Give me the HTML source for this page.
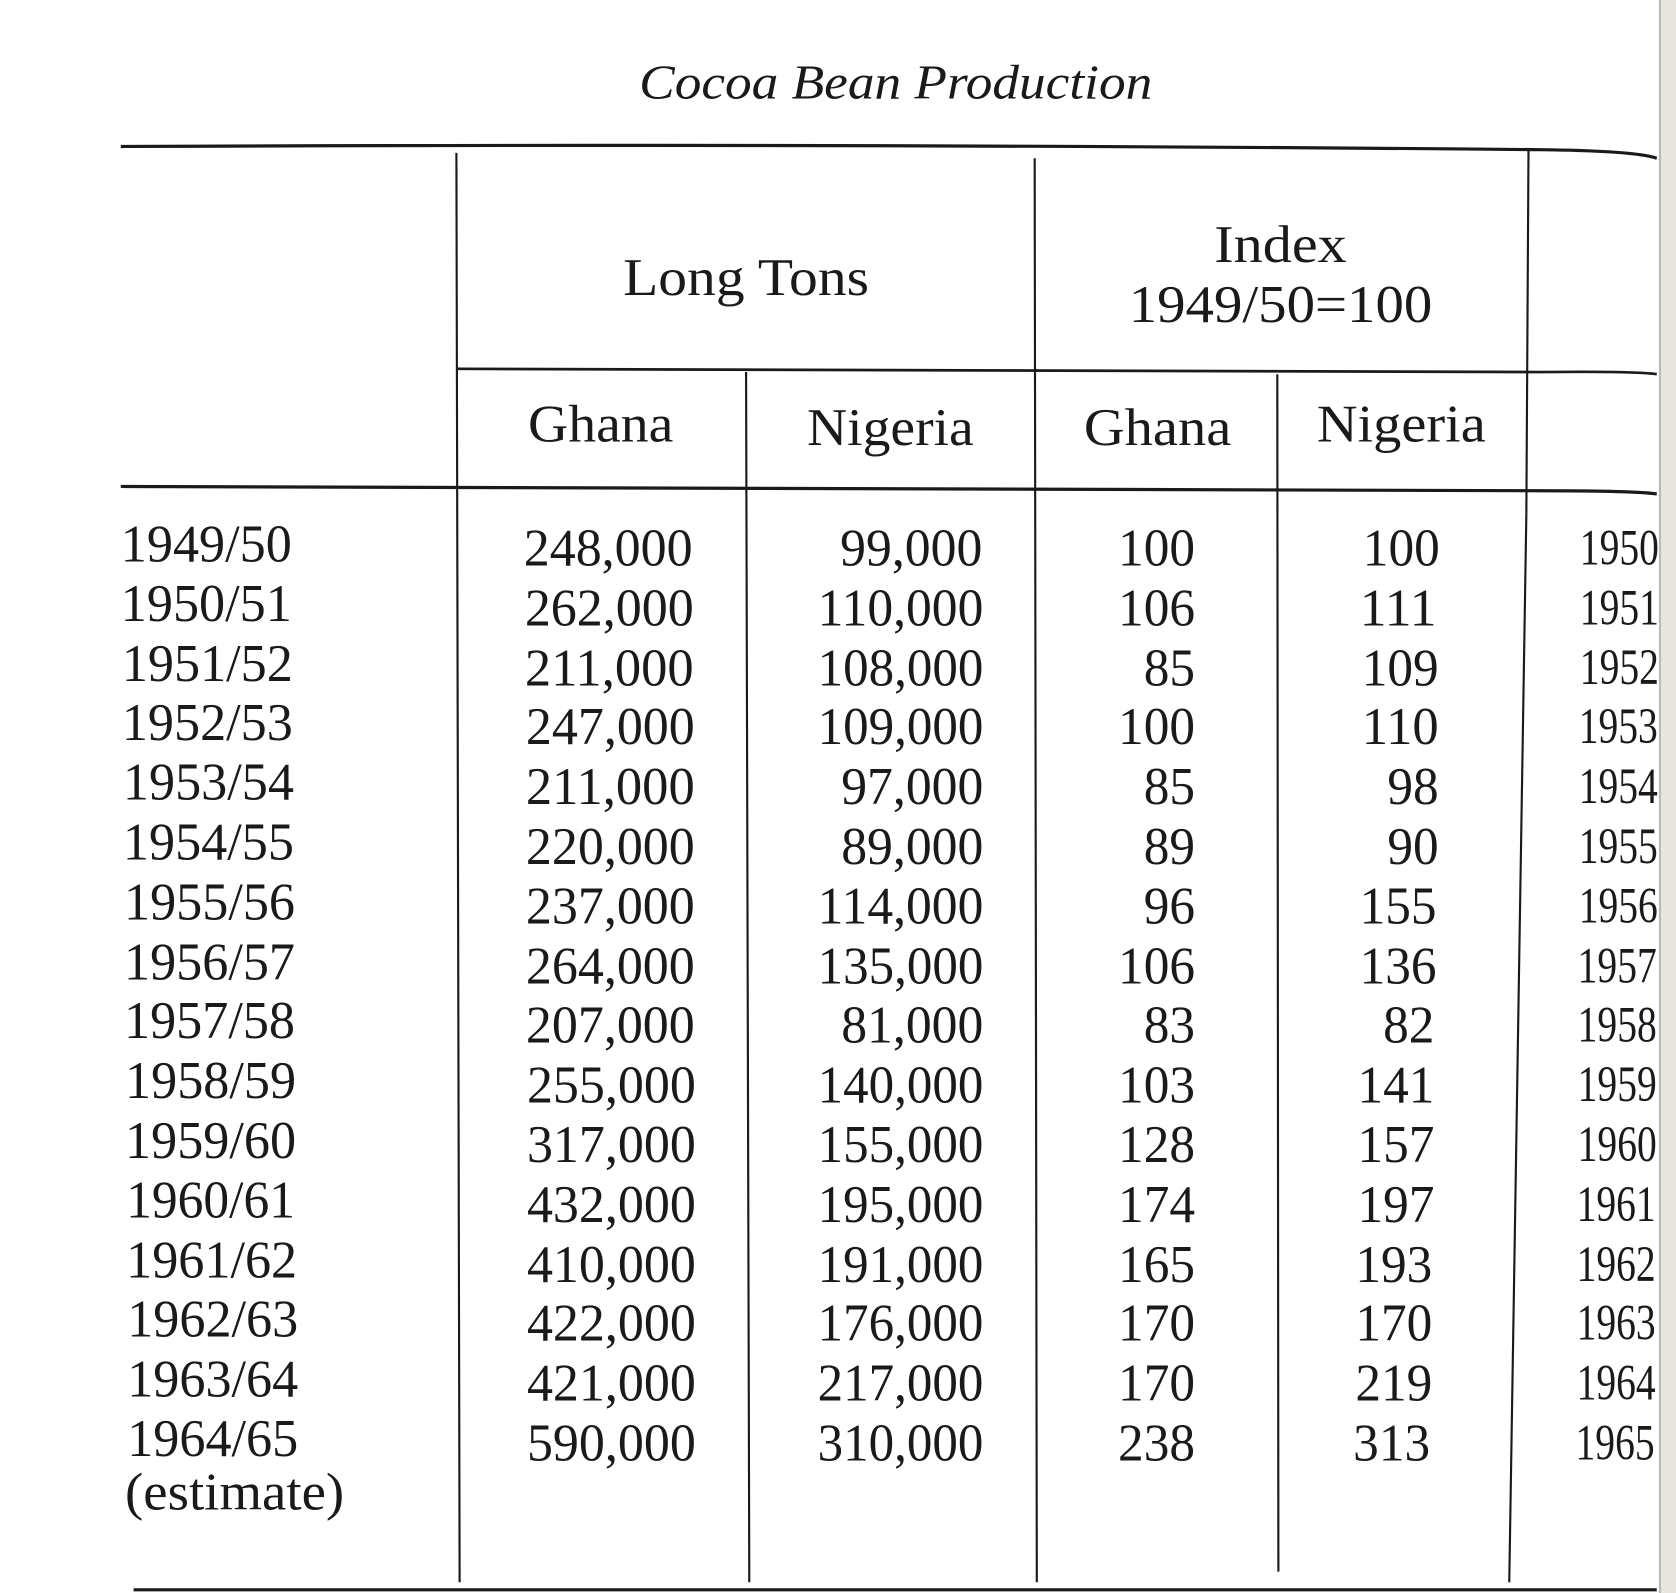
<!DOCTYPE html>
<html><head><meta charset="utf-8"><style>
html,body{margin:0;padding:0;background:#fff;}
svg{display:block;}
text{font-family:"Liberation Serif",serif;fill:#1a1a1a;}
</style></head><body>
<svg width="1676" height="1593" viewBox="0 0 1568 1490" preserveAspectRatio="none" xmlns="http://www.w3.org/2000/svg">
<rect x="1553" y="0" width="15" height="1490" fill="#e8e6e0"/>
<line x1="1553" y1="0" x2="1553" y2="1490" stroke="#bbb" stroke-width="2"/>
<text x="838" y="92" font-size="46" font-style="italic" text-anchor="middle" textLength="480" lengthAdjust="spacingAndGlyphs">Cocoa  Bean  Production</text>
<g stroke="#1a1a1a" fill="none">
<path d="M113 137 Q800 134 1440 140 Q1530 141 1550 148" stroke-width="3"/>
<path d="M427 345 Q900 346 1440 348 Q1530 347 1550 350" stroke-width="2.5"/>
<path d="M113 455 Q800 460 1440 459 Q1530 459 1550 462" stroke-width="3"/>
<path d="M125 1487 L1550 1487" stroke-width="3"/>
<line x1="427" y1="143" x2="430" y2="1480" stroke-width="2"/>
<line x1="698" y1="348" x2="701" y2="1480" stroke-width="2"/>
<line x1="968" y1="148" x2="970" y2="1480" stroke-width="2"/>
<line x1="1195" y1="350" x2="1196" y2="1470" stroke-width="2"/>
<line x1="1430" y1="140" x2="1428" y2="480" stroke-width="2"/>
<line x1="1428" y1="480" x2="1412" y2="1480" stroke-width="2"/>
</g>
<g font-size="50">
<text x="698" y="276" text-anchor="middle" textLength="230" lengthAdjust="spacingAndGlyphs">Long Tons</text>
<text x="1198" y="245" text-anchor="middle" textLength="124" lengthAdjust="spacingAndGlyphs">Index</text>
<text x="1198" y="301" text-anchor="middle" textLength="284" lengthAdjust="spacingAndGlyphs">1949/50=100</text>
<text x="562" y="413" text-anchor="middle" textLength="136" lengthAdjust="spacingAndGlyphs">Ghana</text>
<text x="833" y="416" text-anchor="middle" textLength="156" lengthAdjust="spacingAndGlyphs">Nigeria</text>
<text x="1083" y="416" text-anchor="middle" textLength="138" lengthAdjust="spacingAndGlyphs">Ghana</text>
<text x="1311" y="413" text-anchor="middle" textLength="158" lengthAdjust="spacingAndGlyphs">Nigeria</text>
</g>
<g font-size="50">
<text x="113" y="525" textLength="160" lengthAdjust="spacingAndGlyphs">1949/50</text>
<text x="113" y="581" textLength="160" lengthAdjust="spacingAndGlyphs">1950/51</text>
<text x="114" y="637" textLength="160" lengthAdjust="spacingAndGlyphs">1951/52</text>
<text x="114" y="692" textLength="160" lengthAdjust="spacingAndGlyphs">1952/53</text>
<text x="115" y="748" textLength="160" lengthAdjust="spacingAndGlyphs">1953/54</text>
<text x="115" y="804" textLength="160" lengthAdjust="spacingAndGlyphs">1954/55</text>
<text x="116" y="860" textLength="160" lengthAdjust="spacingAndGlyphs">1955/56</text>
<text x="116" y="916" textLength="160" lengthAdjust="spacingAndGlyphs">1956/57</text>
<text x="116" y="971" textLength="160" lengthAdjust="spacingAndGlyphs">1957/58</text>
<text x="117" y="1027" textLength="160" lengthAdjust="spacingAndGlyphs">1958/59</text>
<text x="117" y="1083" textLength="160" lengthAdjust="spacingAndGlyphs">1959/60</text>
<text x="118" y="1139" textLength="158" lengthAdjust="spacingAndGlyphs">1960/61</text>
<text x="118" y="1195" textLength="160" lengthAdjust="spacingAndGlyphs">1961/62</text>
<text x="119" y="1250" textLength="160" lengthAdjust="spacingAndGlyphs">1962/63</text>
<text x="119" y="1306" textLength="160" lengthAdjust="spacingAndGlyphs">1963/64</text>
<text x="119" y="1362" textLength="160" lengthAdjust="spacingAndGlyphs">1964/65</text>
<text x="117" y="1412" textLength="205" lengthAdjust="spacingAndGlyphs">(estimate)</text>

<g text-anchor="end">
<text x="648" y="529" textLength="158" lengthAdjust="spacingAndGlyphs">248,000</text>
<text x="649" y="585" textLength="158" lengthAdjust="spacingAndGlyphs">262,000</text>
<text x="649" y="641" textLength="158" lengthAdjust="spacingAndGlyphs">211,000</text>
<text x="650" y="696" textLength="158" lengthAdjust="spacingAndGlyphs">247,000</text>
<text x="650" y="752" textLength="158" lengthAdjust="spacingAndGlyphs">211,000</text>
<text x="650" y="808" textLength="158" lengthAdjust="spacingAndGlyphs">220,000</text>
<text x="650" y="864" textLength="158" lengthAdjust="spacingAndGlyphs">237,000</text>
<text x="650" y="920" textLength="158" lengthAdjust="spacingAndGlyphs">264,000</text>
<text x="650" y="975" textLength="158" lengthAdjust="spacingAndGlyphs">207,000</text>
<text x="651" y="1031" textLength="158" lengthAdjust="spacingAndGlyphs">255,000</text>
<text x="651" y="1087" textLength="158" lengthAdjust="spacingAndGlyphs">317,000</text>
<text x="651" y="1143" textLength="158" lengthAdjust="spacingAndGlyphs">432,000</text>
<text x="651" y="1199" textLength="158" lengthAdjust="spacingAndGlyphs">410,000</text>
<text x="651" y="1254" textLength="158" lengthAdjust="spacingAndGlyphs">422,000</text>
<text x="651" y="1310" textLength="158" lengthAdjust="spacingAndGlyphs">421,000</text>
<text x="651" y="1366" textLength="158" lengthAdjust="spacingAndGlyphs">590,000</text>

<text x="919" y="529" textLength="133" lengthAdjust="spacingAndGlyphs">99,000</text>
<text x="920" y="585" textLength="155" lengthAdjust="spacingAndGlyphs">110,000</text>
<text x="920" y="641" textLength="155" lengthAdjust="spacingAndGlyphs">108,000</text>
<text x="920" y="696" textLength="155" lengthAdjust="spacingAndGlyphs">109,000</text>
<text x="920" y="752" textLength="133" lengthAdjust="spacingAndGlyphs">97,000</text>
<text x="920" y="808" textLength="133" lengthAdjust="spacingAndGlyphs">89,000</text>
<text x="920" y="864" textLength="155" lengthAdjust="spacingAndGlyphs">114,000</text>
<text x="920" y="920" textLength="155" lengthAdjust="spacingAndGlyphs">135,000</text>
<text x="920" y="975" textLength="133" lengthAdjust="spacingAndGlyphs">81,000</text>
<text x="920" y="1031" textLength="155" lengthAdjust="spacingAndGlyphs">140,000</text>
<text x="920" y="1087" textLength="155" lengthAdjust="spacingAndGlyphs">155,000</text>
<text x="920" y="1143" textLength="155" lengthAdjust="spacingAndGlyphs">195,000</text>
<text x="920" y="1199" textLength="155" lengthAdjust="spacingAndGlyphs">191,000</text>
<text x="920" y="1254" textLength="155" lengthAdjust="spacingAndGlyphs">176,000</text>
<text x="920" y="1310" textLength="155" lengthAdjust="spacingAndGlyphs">217,000</text>
<text x="920" y="1366" textLength="155" lengthAdjust="spacingAndGlyphs">310,000</text>

<text x="1118" y="529" textLength="72" lengthAdjust="spacingAndGlyphs">100</text>
<text x="1118" y="585" textLength="72" lengthAdjust="spacingAndGlyphs">106</text>
<text x="1118" y="641" textLength="48" lengthAdjust="spacingAndGlyphs">85</text>
<text x="1118" y="696" textLength="72" lengthAdjust="spacingAndGlyphs">100</text>
<text x="1118" y="752" textLength="48" lengthAdjust="spacingAndGlyphs">85</text>
<text x="1118" y="808" textLength="48" lengthAdjust="spacingAndGlyphs">89</text>
<text x="1118" y="864" textLength="48" lengthAdjust="spacingAndGlyphs">96</text>
<text x="1118" y="920" textLength="72" lengthAdjust="spacingAndGlyphs">106</text>
<text x="1118" y="975" textLength="48" lengthAdjust="spacingAndGlyphs">83</text>
<text x="1118" y="1031" textLength="72" lengthAdjust="spacingAndGlyphs">103</text>
<text x="1118" y="1087" textLength="72" lengthAdjust="spacingAndGlyphs">128</text>
<text x="1118" y="1143" textLength="72" lengthAdjust="spacingAndGlyphs">174</text>
<text x="1118" y="1199" textLength="72" lengthAdjust="spacingAndGlyphs">165</text>
<text x="1118" y="1254" textLength="72" lengthAdjust="spacingAndGlyphs">170</text>
<text x="1118" y="1310" textLength="72" lengthAdjust="spacingAndGlyphs">170</text>
<text x="1118" y="1366" textLength="72" lengthAdjust="spacingAndGlyphs">238</text>

<text x="1347" y="529" textLength="72" lengthAdjust="spacingAndGlyphs">100</text>
<text x="1344" y="585" textLength="72" lengthAdjust="spacingAndGlyphs">111</text>
<text x="1346" y="641" textLength="72" lengthAdjust="spacingAndGlyphs">109</text>
<text x="1346" y="696" textLength="72" lengthAdjust="spacingAndGlyphs">110</text>
<text x="1346" y="752" textLength="48" lengthAdjust="spacingAndGlyphs">98</text>
<text x="1346" y="808" textLength="48" lengthAdjust="spacingAndGlyphs">90</text>
<text x="1344" y="864" textLength="72" lengthAdjust="spacingAndGlyphs">155</text>
<text x="1344" y="920" textLength="72" lengthAdjust="spacingAndGlyphs">136</text>
<text x="1342" y="975" textLength="48" lengthAdjust="spacingAndGlyphs">82</text>
<text x="1342" y="1031" textLength="72" lengthAdjust="spacingAndGlyphs">141</text>
<text x="1342" y="1087" textLength="72" lengthAdjust="spacingAndGlyphs">157</text>
<text x="1342" y="1143" textLength="72" lengthAdjust="spacingAndGlyphs">197</text>
<text x="1340" y="1199" textLength="72" lengthAdjust="spacingAndGlyphs">193</text>
<text x="1340" y="1254" textLength="72" lengthAdjust="spacingAndGlyphs">170</text>
<text x="1340" y="1310" textLength="72" lengthAdjust="spacingAndGlyphs">219</text>
<text x="1338" y="1366" textLength="72" lengthAdjust="spacingAndGlyphs">313</text>
</g>
<g text-anchor="end" font-size="48">
<text x="1552" y="528" textLength="74" lengthAdjust="spacingAndGlyphs">1950</text>
<text x="1552" y="584" textLength="74" lengthAdjust="spacingAndGlyphs">1951</text>
<text x="1552" y="640" textLength="74" lengthAdjust="spacingAndGlyphs">1952</text>
<text x="1551" y="695" textLength="74" lengthAdjust="spacingAndGlyphs">1953</text>
<text x="1551" y="751" textLength="74" lengthAdjust="spacingAndGlyphs">1954</text>
<text x="1551" y="807" textLength="74" lengthAdjust="spacingAndGlyphs">1955</text>
<text x="1551" y="863" textLength="74" lengthAdjust="spacingAndGlyphs">1956</text>
<text x="1550" y="919" textLength="74" lengthAdjust="spacingAndGlyphs">1957</text>
<text x="1550" y="974" textLength="74" lengthAdjust="spacingAndGlyphs">1958</text>
<text x="1550" y="1030" textLength="74" lengthAdjust="spacingAndGlyphs">1959</text>
<text x="1550" y="1086" textLength="74" lengthAdjust="spacingAndGlyphs">1960</text>
<text x="1549" y="1142" textLength="74" lengthAdjust="spacingAndGlyphs">1961</text>
<text x="1549" y="1198" textLength="74" lengthAdjust="spacingAndGlyphs">1962</text>
<text x="1549" y="1253" textLength="74" lengthAdjust="spacingAndGlyphs">1963</text>
<text x="1549" y="1309" textLength="74" lengthAdjust="spacingAndGlyphs">1964</text>
<text x="1548" y="1365" textLength="74" lengthAdjust="spacingAndGlyphs">1965</text>
</g>
</g>
</svg>
</body></html>
